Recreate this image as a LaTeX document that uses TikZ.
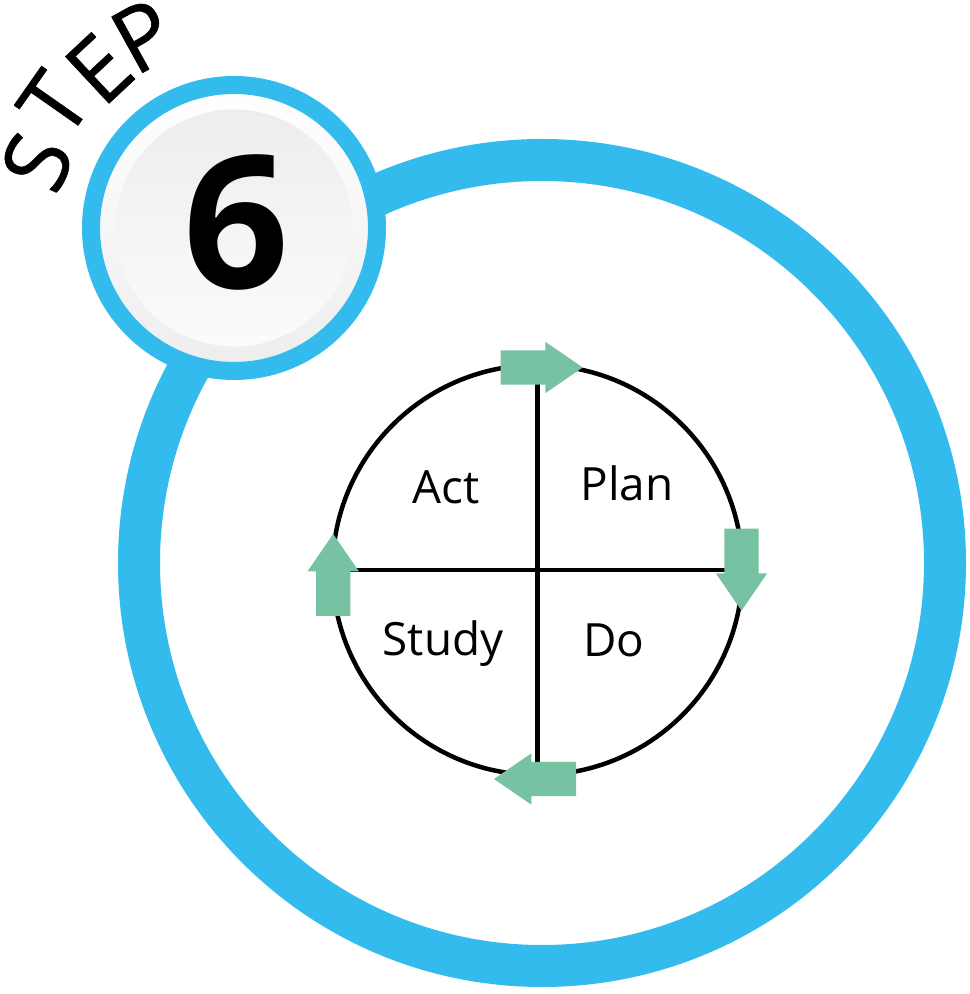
\documentclass[tikz,border=0pt]{standalone}
\usepackage{fontspec}
\setmainfont{Open Sans}
\newfontfamily\stepfont[FakeBold=0.6]{Open Sans}
\usepackage{tikz}
\usetikzlibrary{shapes.arrows}
\definecolor{ringblue}{HTML}{34BBEE}
\definecolor{arrowgreen}{HTML}{77C2A3}
\tikzset{
  disc/.style={circle,inner sep=0pt,outer sep=0pt},
  flow/.style={single arrow,anchor=tip,fill=arrowgreen,inner xsep=0pt,inner ysep=17bp,outer sep=0pt,minimum height=82bp,single arrow head extend=8.5bp,single arrow tip angle=69},
  phase/.style={anchor=base,inner sep=0pt,font=\fontsize{46}{46}\selectfont},
  stepletter/.style={inner sep=0pt,font=\stepfont\fontsize{90}{90}\selectfont},
}
\begin{document}
\begin{tikzpicture}[line join=bevel]
\useasboundingbox (0bp,0bp) rectangle (970bp,994bp);
%%
\node (node_ring) at (542bp,431bp) [disc,draw=ringblue,line width=42bp,minimum size=806bp] {};
\node (node_badge) at (234bp,766bp) [disc,draw=ringblue,line width=18bp,minimum size=286bp,top color=white,bottom color=black!7] {};
\node (node_face) at (234bp,766bp) [disc,minimum size=237bp,top color=black!7,bottom color=black!1.5] {};
\node (node_six) at (236bp,705.5bp) [anchor=base,inner sep=0pt,font=\fontsize{186}{186}\selectfont\bfseries] {6};
%%
\node (node_s) at (37bp,832bp) [stepletter,rotate=66] {S};
\node (node_t) at (54bp,890bp) [stepletter,rotate=55] {T};
\node (node_e) at (99bp,925bp) [stepletter,rotate=43] {E};
\node (node_p) at (143bp,958bp) [stepletter,rotate=29] {P};
%%
\node (node_cycle) at (537.5bp,424bp) [disc,draw=black,line width=4.5bp,minimum size=410bp] {};
\draw [black,line width=4.5bp] (node_cycle.north) -- (node_cycle.south);
\draw [black,line width=4.5bp] (node_cycle.west) -- (node_cycle.east);
\node (node_plan_do) at (582.7bp,626.5bp) [flow] {};
\node (node_do_study) at (741.5bp,383.3bp) [flow,rotate=-90] {};
\node (node_study_act) at (494bp,215bp) [flow,rotate=180] {};
\node (node_act_plan) at (333.2bp,460bp) [flow,rotate=90] {};
%%
\node (node_act) at (446bp,490bp) [phase] {Act};
\node (node_plan) at (627bp,493.3bp) [phase] {Plan};
\node (node_study) at (443bp,338bp) [phase] {Study};
\node (node_do) at (614bp,337.5bp) [phase] {Do};
%
\end{tikzpicture}
\end{document}
